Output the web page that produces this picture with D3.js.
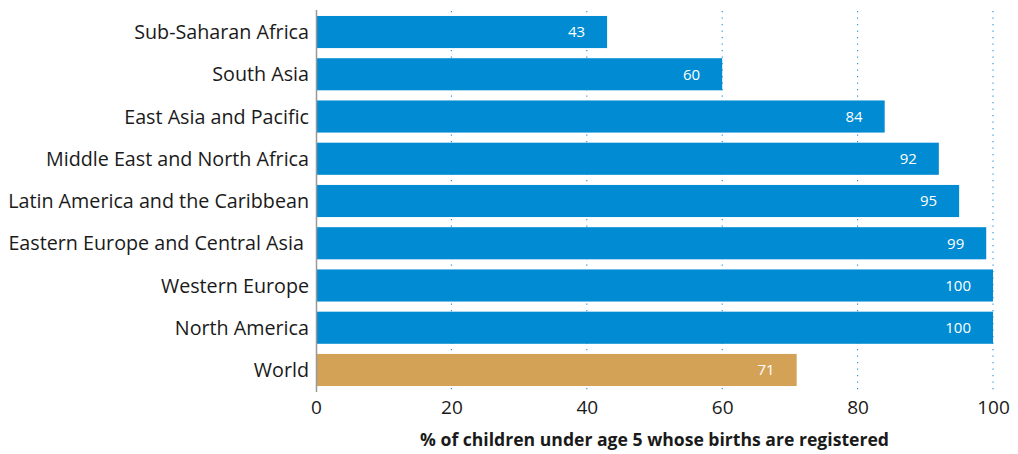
<!DOCTYPE html>
<html><head><meta charset="utf-8">
<script src="https://cdn.jsdelivr.net/npm/d3@7"></script>
<style>body{margin:0;background:#fff}svg{display:block}</style>
</head><body><svg id="c" width="1018" height="454"></svg>
<script>
const categories = ["Sub-Saharan Africa","South Asia","East Asia and Pacific","Middle East and North Africa","Latin America and the Caribbean","Eastern Europe and Central Asia ","Western Europe","North America","World"];
const values = [43,60,84,92,95,99,100,100,71];
const xTicks = [0,20,40,60,80,100];
const axisTitle = "% of children under age 5 whose births are registered";

const svg = d3.select("#c");
const font = "'Open Sans', 'Noto Sans', sans-serif";
const x = d3.scaleLinear().domain([0,100]).range([316,993]);
const y = d3.scaleBand().domain(categories).range([10.9,391.1]).paddingInner(0.24).paddingOuter(0.12);

// gridlines
svg.append("g").selectAll("line").data(xTicks.slice(1)).join("line")
  .attr("x1", d=>x(d)).attr("x2", d=>x(d)).attr("y1", 11).attr("y2", 392)
  .attr("stroke", "#1f93d6").attr("stroke-width", 1.1).attr("stroke-dasharray", "1.3,5.2");

// bars
svg.append("g").selectAll("rect").data(categories).join("rect")
  .attr("x", x(0)).attr("y", d=>y(d)).attr("height", y.bandwidth())
  .attr("width", (d,i)=>x(values[i])-x(0))
  .attr("fill", d=> d==="World" ? "#d4a257" : "#008bd2");

// value labels
svg.append("g").selectAll("text").data(categories).join("text")
  .attr("x", (d,i)=>x(values[i]) - 22).attr("y", d=>y(d)+y.bandwidth()/2)
  .attr("dy","0.36em").attr("text-anchor","end")
  .attr("fill","#fff").style("font-family",font).style("font-size","15px")
  .text((d,i)=>values[i]);

// y axis line
svg.append("line").attr("x1",316.5).attr("x2",316.5).attr("y1",10).attr("y2",392)
  .attr("stroke","#999").attr("stroke-width",1.5);

// category labels
const labs = svg.append("g").selectAll("text").data(categories).join("text")
  .attr("x", 309).attr("y", d=>y(d)+y.bandwidth()/2)
  .attr("dy","0.36em").attr("text-anchor","end")
  .attr("fill","#1a1a1a").style("font-family",font).style("font-size","18px")
  .style("white-space","pre")
  .text(d=>d);
// fit widest label to the reference width
let maxW = d3.max(labs.nodes(), n=>n.getComputedTextLength());
labs.style("font-size", (18*301/maxW).toFixed(2)+"px");

// x axis labels
const xa = svg.append("g").attr("transform","translate(0,398)")
  .call(d3.axisBottom(x).tickValues(xTicks).tickSize(0).tickPadding(2));
xa.select(".domain").remove();
xa.selectAll("text").attr("fill","#1a1a1a").style("font-family",font).style("font-size","19px");

const t = svg.append("text").attr("x", (x(0)+x(100))/2).attr("y", 446)
  .attr("text-anchor","middle").attr("fill","#1a1a1a")
  .style("font-family",font).style("font-size","16px").style("font-weight","bold")
  .text(axisTitle);
const tw = t.node().getComputedTextLength();
t.style("font-size", (16*469/tw).toFixed(2)+"px");
</script></body></html>
